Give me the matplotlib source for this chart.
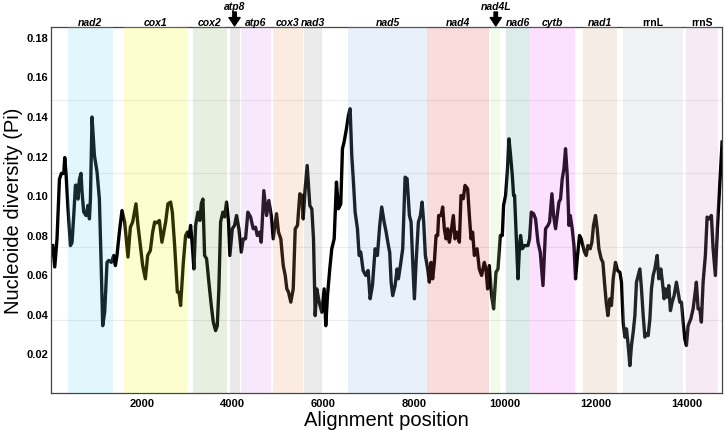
import numpy as np
import matplotlib
matplotlib.use('Agg')
import matplotlib.pyplot as plt
from matplotlib.colors import to_rgb
import matplotlib.transforms as mtransforms

plt.rcParams['font.family'] = ['Liberation Sans', 'DejaVu Sans']

# sliding window nucleotide diversity
pos = [44, 88, 138, 191, 235, 286, 308, 336, 380, 433, 468, 506, 543, 578, 600, 631, 666, 688,
       725, 776, 820, 851, 873, 908, 961, 1018, 1070, 1106, 1143, 1187, 1238, 1275, 1334, 1385,
       1422, 1457, 1510, 1567, 1627, 1699, 1752, 1802, 1875, 1919, 1972, 2022, 2082, 2132, 2191,
       2242, 2286, 2337, 2389, 2446, 2528, 2578, 2638, 2675, 2726, 2785, 2820, 2857, 2917, 2967,
       3005, 3040, 3077, 3115, 3150, 3187, 3238, 3282, 3312, 3348, 3385, 3429, 3479, 3532, 3576,
       3627, 3664, 3699, 3737, 3787, 3825, 3868, 3912, 3941, 3994, 4044, 4088, 4139, 4192, 4236,
       4286, 4337, 4396, 4455, 4506, 4543, 4594, 4631, 4688, 4748, 4798, 4851, 4895, 4967, 5011,
       5062, 5115, 5159, 5194, 5231, 5282, 5335, 5379, 5429, 5480, 5524, 5554, 5598, 5642, 5671,
       5700, 5744, 5781, 5818, 5853, 5906, 5963, 6016, 6051, 6088, 6139, 6183, 6236, 6286, 6330,
       6381, 6418, 6455, 6506, 6550, 6587, 6623, 6660, 6697, 6748, 6785, 6820, 6873, 6930, 6983,
       7027, 7078, 7137, 7187, 7238, 7282, 7335, 7379, 7429, 7458, 7489, 7524, 7576, 7620, 7649,
       7693, 7744, 7796, 7840, 7891, 7928, 7964, 8001, 8038, 8089, 8133, 8170, 8205, 8242, 8293,
       8330, 8368, 8403, 8440, 8478, 8513, 8535, 8588, 8623, 8660, 8697, 8732, 8770, 8807, 8858,
       8895, 8939, 8990, 9027, 9077, 9115, 9172, 9210, 9247, 9282, 9320, 9379, 9429, 9480, 9539,
       9576, 9612, 9649, 9700, 9744, 9796, 9840, 9891, 9935, 9963, 10007, 10045, 10082, 10117,
       10155, 10183, 10205, 10243, 10280, 10315, 10337, 10375, 10425, 10500, 10535, 10573, 10623,
       10667, 10720, 10770, 10830, 10887, 10940, 10975, 11027, 11063, 11107, 11144, 11181, 11216,
       11254, 11291, 11326, 11364, 11401, 11430, 11474, 11511, 11546, 11583, 11634, 11671, 11709,
       11744, 11781, 11818, 11869, 11906, 11942, 11986, 12023, 12060, 12111, 12148, 12183, 12221,
       12258, 12302, 12337, 12375, 12425, 12469, 12522, 12557, 12595, 12632, 12667, 12705, 12742,
       12777, 12815, 12852, 12887, 12925, 12962, 12997, 13035, 13072, 13107, 13144, 13182, 13217,
       13254, 13291, 13342, 13379, 13423, 13458, 13495, 13524, 13561, 13598, 13634, 13672, 13715,
       13766, 13803, 13840, 13876, 13913, 13950, 13986, 14023, 14082, 14133, 14170, 14205, 14243,
       14280, 14315, 14353, 14403, 14441, 14485, 14535, 14573, 14623, 14667, 14720, 14771]
pi = [0.0745, 0.0637, 0.078, 0.108, 0.111, 0.111, 0.119, 0.111, 0.093, 0.0745, 0.076, 0.0897,
      0.105, 0.105, 0.098, 0.108, 0.111, 0.1016, 0.0915, 0.0897, 0.0948, 0.088, 0.098, 0.1395,
      0.120, 0.1118, 0.098, 0.0678, 0.034, 0.041, 0.066, 0.067, 0.066, 0.0695, 0.0644, 0.0695,
      0.0813, 0.0922, 0.0864, 0.0687, 0.0838, 0.0864, 0.0956, 0.0847, 0.0745, 0.0644, 0.0577,
      0.0695, 0.072, 0.0813, 0.0864, 0.086, 0.0872, 0.0762, 0.0864, 0.0956, 0.0965, 0.0914,
      0.0745, 0.051, 0.051, 0.0442, 0.066, 0.0796, 0.0813, 0.0788, 0.0847, 0.0745, 0.0627,
      0.0847, 0.0914, 0.0872, 0.0956, 0.098, 0.0695, 0.0678, 0.056, 0.0442, 0.0358, 0.0315,
      0.034, 0.0526, 0.0864, 0.0914, 0.089, 0.0965, 0.0864, 0.0695, 0.083, 0.0847, 0.0897,
      0.083, 0.0712, 0.0779, 0.0779, 0.0914, 0.089, 0.083, 0.0838, 0.0796, 0.0813, 0.0762,
      0.1023, 0.0897, 0.0973, 0.0897, 0.0779, 0.0906, 0.0813, 0.0779, 0.0644, 0.0594, 0.0526,
      0.051, 0.0459, 0.0526, 0.083, 0.0847, 0.1007, 0.0998, 0.088, 0.1032, 0.115, 0.105, 0.0948,
      0.093, 0.0779, 0.0391, 0.0526, 0.0459, 0.0408, 0.0526, 0.034, 0.049, 0.0627, 0.0729,
      0.0779, 0.1066, 0.0931, 0.0956, 0.1235, 0.1269, 0.1336, 0.1403, 0.1437, 0.120, 0.1066,
      0.0914, 0.083, 0.0695, 0.0712, 0.0619, 0.0594, 0.0619, 0.0476, 0.0543, 0.0729, 0.0695,
      0.0847, 0.094, 0.0864, 0.0813, 0.0745, 0.071, 0.056, 0.0492, 0.0543, 0.0627, 0.0577,
      0.0644, 0.0729, 0.1091, 0.1083, 0.0897, 0.0864, 0.0661, 0.0476, 0.066, 0.0864, 0.0897,
      0.0965, 0.0864, 0.0695, 0.0627, 0.056, 0.066, 0.0577, 0.066, 0.0796, 0.0796, 0.0897,
      0.0897, 0.094, 0.083, 0.0779, 0.083, 0.0762, 0.0813, 0.0897, 0.0779, 0.0813, 0.0762,
      0.0998, 0.0982, 0.1049, 0.1032, 0.0897, 0.0779, 0.0813, 0.0695, 0.0729, 0.0627, 0.0594,
      0.066, 0.0627, 0.0526, 0.0644, 0.0492, 0.0425, 0.061, 0.0627, 0.0796, 0.0796, 0.0948,
      0.0998, 0.1117, 0.1285, 0.120, 0.110, 0.0998, 0.0998, 0.0779, 0.0577, 0.0745, 0.0796,
      0.0729, 0.0745, 0.0745, 0.0779, 0.0914, 0.0906, 0.088, 0.0762, 0.0712, 0.0543, 0.083,
      0.0847, 0.0864, 0.1007, 0.0897, 0.083, 0.0897, 0.0965, 0.098, 0.1083, 0.1133, 0.1235,
      0.110, 0.0847, 0.0897, 0.083, 0.0745, 0.0577, 0.0678, 0.0796, 0.0779, 0.0745, 0.0712,
      0.0695, 0.0745, 0.0729, 0.0762, 0.0847, 0.0897, 0.083, 0.0729, 0.0678, 0.066, 0.056,
      0.0459, 0.0391, 0.0476, 0.0442, 0.0577, 0.066, 0.0619, 0.061, 0.056, 0.0358, 0.0282,
      0.0324, 0.024, 0.0138, 0.024, 0.0307, 0.0391, 0.056, 0.0594, 0.0627, 0.0526, 0.0391,
      0.0282, 0.0299, 0.029, 0.0374, 0.0526, 0.0594, 0.0627, 0.0695, 0.0577, 0.0627, 0.056,
      0.0476, 0.0526, 0.0484, 0.0543, 0.0416, 0.0459, 0.0492, 0.056, 0.051, 0.0459, 0.0459,
      0.0358, 0.0273, 0.024, 0.034, 0.0374, 0.0425, 0.0492, 0.056, 0.0425, 0.0425, 0.0358,
      0.056, 0.0695, 0.0889, 0.088, 0.0897, 0.0729, 0.0594, 0.083, 0.1049, 0.1269]

# gene regions
genes = ['nad2', 'cox1', 'cox2', 'atp8', 'atp6', 'cox3', 'nad3', 'nad5', 'nad4', 'nad4L',
         'nad6', 'cytb', 'nad1', 'rrnL', 'rrnS']
starts = [374, 1604, 3121, 3934, 4176, 4879, 5576, 6535, 8286, 9692, 10022, 10527, 11714,
          12593, 13978]
ends = [1363, 2989, 3868, 4154, 4835, 5560, 5963, 8286, 9648, 9890, 10527, 11538, 12462,
        13912, 14681]
shades = ['#e2f7fc', '#fdfed0', '#e6efe0', '#e9e9e9', '#f8e8fc', '#fcebe0', '#ebebeb',
          '#e8f0f9', '#f8dcdc', '#f1fbea', '#dcecea', '#fde0fd', '#f5ece6', '#f1f2f4',
          '#f6ebf4']
arrow_genes = ['atp8', 'nad4L']

fig = plt.figure(figsize=(7.25, 4.31), dpi=100)
ax = fig.add_axes([0.070, 0.086, 0.926, 0.849])

ax.plot(pos, pi, color='black', lw=2.4, zorder=2, solid_joinstyle='round')

# translucent boxes over the line (tints the line inside each gene)
alpha = 0.2
for g, s, e, c in zip(genes, starts, ends, shades):
    base = np.clip(1 - (1 - np.array(to_rgb(c))) / alpha, 0, 1)
    ax.axvspan(s, e, color=base, alpha=alpha, lw=0, zorder=3)

for yv in [0.037, 0.074, 0.111, 0.148]:
    ax.axhline(yv, color='#ececec', lw=0.8, zorder=1)

ax.set_xlim(0, 14771)
ax.set_ylim(0, 0.185)
ax.set_xticks([2000, 4000, 6000, 8000, 10000, 12000, 14000])
ax.set_yticks([0.02, 0.04, 0.06, 0.08, 0.10, 0.12, 0.14, 0.16, 0.18])
ax.set_yticklabels(['%.2f' % v for v in ax.get_yticks()])
ax.tick_params(length=0, labelsize=8)
ax.tick_params(axis='y', pad=2)
ax.tick_params(axis='x', pad=4)
for lab in ax.get_xticklabels() + ax.get_yticklabels():
    lab.set_fontweight('bold')
for sp in ax.spines.values():
    sp.set_color('#444444')
    sp.set_linewidth(0.9)

ax.set_xlabel('Alignment position', fontsize=14.5, labelpad=1)
ax.set_ylabel('Nucleoide diversity (Pi)', fontsize=14.5, labelpad=2)

trans = mtransforms.blended_transform_factory(ax.transData, ax.transAxes)
for g, s, e in zip(genes, starts, ends):
    x = (s + e) / 2
    style = 'normal' if g.startswith('rrn') else 'italic'
    if g in arrow_genes:
        ax.text(x, 1.058, g, transform=trans, ha='center', va='center', fontsize=7.5,
                fontweight='bold', fontstyle=style, clip_on=False)
        ax.annotate('', xy=(x, 1.003), xytext=(x, 1.041), xycoords=trans, textcoords=trans,
                    arrowprops=dict(facecolor='black', edgecolor='black', width=2.5,
                                    headwidth=8, headlength=6, shrink=0))
    else:
        ax.text(x, 1.0145, g, transform=trans, ha='center', va='center', fontsize=7.5,
                fontweight='bold', fontstyle=style, clip_on=False)

plt.savefig('out.png', dpi=100)
